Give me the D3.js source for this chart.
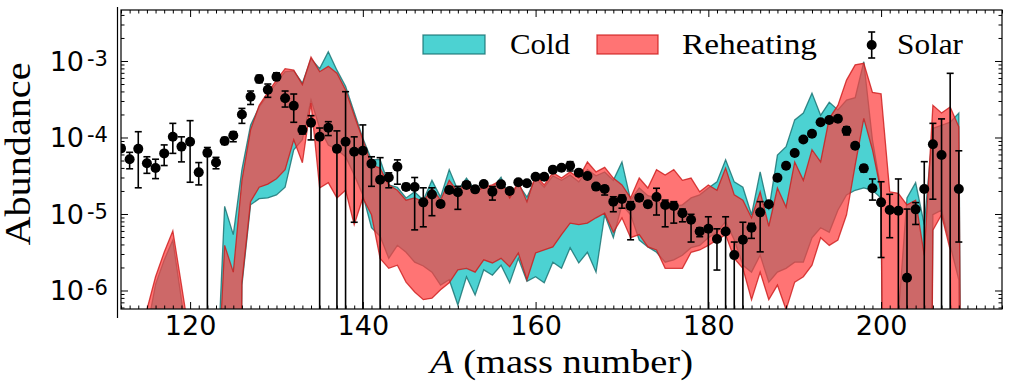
<!DOCTYPE html>
<html>
<head>
<meta charset="utf-8">
<script src="https://cdnjs.cloudflare.com/ajax/libs/d3/7.8.5/d3.min.js"></script>
<style>
  body { margin: 0; background: #fff; }
  svg { display: block; }
</style>
</head>
<body>
<script>
// mass numbers of the model bands
const bandA = d3.range(112, 211);
// band edges, log10(abundance); -20 means zero / far below the axis
const coldHighLog = [
  -20, -20, -20, -6.52, -5.92, -5.60, -5.34, -6.12, -6.91, -20,
  -20, -7.43, -4.90, -5.27, -4.42, -3.84, -3.60, -3.44, -3.29, -3.14,
  -3.13, -3.29, -2.97, -3.10, -2.88, -3.12, -3.33, -3.67, -4.01, -4.29,
  -4.29, -4.62, -4.65, -4.79, -4.71, -4.82, -4.56, -4.78, -4.42, -4.69,
  -4.53, -4.69, -4.66, -4.66, -4.52, -4.79, -4.61, -4.78, -4.53, -4.65,
  -4.50, -4.56, -4.49, -4.58, -4.42, -4.50, -4.45, -4.56, -4.32, -4.82,
  -4.66, -4.76, -4.79, -4.95, -4.90, -4.88, -4.79, -4.75, -4.66, -4.58,
  -4.29, -4.58, -4.65, -5.01, -4.45, -4.95, -4.23, -4.12, -3.77, -3.68,
  -3.42, -3.71, -3.54, -3.64, -3.51, -3.48, -3.01, -4.03, -4.69, -20,
  -6.32, -4.79, -4.59, -5.14, -3.88, -3.84, -3.80, -3.68, -20
];
const coldLowLog = [
  -20, -20, -20, -20, -20, -20, -20, -20, -20, -20,
  -20, -20, -20, -20, -5.93, -4.88, -4.80, -4.79, -4.75, -4.65,
  -4.16, -4.03, -3.51, -3.88, -4.10, -4.16, -4.25, -4.49, -4.75, -5.18,
  -5.29, -5.58, -5.41, -5.50, -5.63, -5.68, -5.76, -5.93, -5.86, -6.19,
  -5.82, -6.06, -5.73, -5.80, -5.67, -5.90, -5.58, -5.88, -5.82, -5.90,
  -5.63, -5.71, -5.44, -5.64, -5.50, -5.76, -5.01, -5.31, -4.88, -5.01,
  -5.34, -5.43, -5.50, -5.63, -5.60, -5.54, -5.44, -5.41, -5.31, -5.24,
  -5.10, -5.34, -5.67, -5.76, -5.54, -5.89, -5.76, -5.71, -5.63, -5.63,
  -5.31, -5.18, -5.24, -4.95, -4.75, -4.69, -4.66, -4.69, -4.79, -20,
  -20, -20, -20, -20, -5.01, -4.95, -5.41, -5.86, -20
];
const reheatHighLog = [
  -20, -20, -20, -6.25, -5.82, -5.50, -5.22, -5.93, -6.65, -20,
  -20, -7.69, -5.41, -5.76, -4.56, -3.90, -3.58, -3.41, -3.25, -3.10,
  -3.12, -3.31, -2.95, -3.14, -3.07, -3.16, -3.38, -3.71, -4.03, -4.36,
  -4.40, -4.62, -4.69, -4.82, -4.79, -4.84, -4.66, -4.82, -4.56, -4.71,
  -4.58, -4.71, -4.65, -4.62, -4.56, -4.79, -4.58, -4.84, -4.49, -4.62,
  -4.46, -4.53, -4.45, -4.53, -4.32, -4.45, -4.39, -4.53, -4.62, -4.79,
  -4.53, -4.66, -4.42, -4.49, -4.42, -4.56, -4.53, -4.71, -4.62, -4.69,
  -4.40, -4.75, -4.82, -5.05, -4.71, -5.16, -4.66, -4.91, -4.32, -4.56,
  -4.16, -4.32, -3.75, -3.58, -3.25, -3.05, -3.03, -3.41, -3.43, -4.71,
  -4.73, -4.88, -4.82, -5.54, -3.58, -3.68, -3.60, -3.86, -20
];
const reheatLowLog = [
  -20, -20, -20, -20, -20, -20, -20, -20, -20, -20,
  -20, -20, -20, -20, -5.89, -4.84, -4.65, -4.61, -4.54, -4.42,
  -4.03, -4.33, -3.55, -4.66, -4.59, -4.79, -4.69, -5.14, -4.79, -5.01,
  -5.58, -5.71, -5.67, -5.89, -6.02, -6.12, -6.10, -5.99, -5.90, -5.73,
  -5.71, -5.76, -5.60, -5.64, -5.58, -5.69, -5.51, -5.86, -5.51, -5.47,
  -5.43, -5.27, -5.12, -5.14, -5.12, -5.05, -4.99, -5.24, -5.05, -5.31,
  -5.27, -5.43, -5.47, -5.71, -5.71, -5.71, -5.50, -5.47, -5.41, -5.34,
  -5.27, -5.58, -5.71, -6.12, -5.76, -6.12, -5.93, -6.25, -5.89, -5.82,
  -5.67, -5.31, -5.41, -5.34, -5.01, -4.36, -3.75, -4.16, -4.71, -20,
  -20, -20, -20, -20, -5.21, -5.01, -5.47, -20, -20
];

// solar r-process abundances with error bar ends (0 = bar runs off the axis)
const solarA = d3.range(112, 210);
const solar = [
  7.2e-5, 5.2e-5, 7.1e-5, 4.6e-5, 4.0e-5, 6.2e-5, 1.02e-4, 7.6e-5, 8.8e-5, 3.5e-5,
  6.3e-5, 4.7e-5, 9.0e-5, 1.06e-4, 2.0e-4, 3.4e-4, 5.8e-4, 4.2e-4, 6.2e-4, 3.25e-4,
  2.6e-4, 1.25e-4, 1.56e-4, 1.02e-4, 1.34e-4, 7.1e-5, 8.8e-5, 6.5e-5, 6.7e-5, 4.55e-5,
  2.8e-5, 3.0e-5, 4.15e-5, 2.25e-5, 2.25e-5, 1.42e-5, 1.8e-5, 1.35e-5, 2.06e-5, 1.92e-5,
  2.4e-5, 2.1e-5, 2.47e-5, 1.96e-5, 2.44e-5, 2.0e-5, 2.6e-5, 2.52e-5, 3.07e-5, 3.07e-5,
  3.8e-5, 4.03e-5, 4.28e-5, 3.47e-5, 3.14e-5, 2.28e-5, 2.12e-5, 1.45e-5, 1.57e-5, 1.27e-5,
  1.63e-5, 1.34e-5, 1.67e-5, 1.31e-5, 1.27e-5, 1.02e-5, 8.4e-6, 5.9e-6, 6.4e-6, 4.7e-6,
  5.9e-6, 2.9e-6, 4.6e-6, 6.6e-6, 1.05e-5, 1.34e-5, 2.98e-5, 4.28e-5, 6.27e-5, 9.4e-5,
  1.12e-4, 1.58e-4, 1.69e-4, 1.76e-4, 1.23e-4, 7.8e-5, 3.96e-5, 2.17e-5, 1.42e-5, 1.13e-5,
  1.1e-5, 1.47e-6, 1.15e-5, 2.12e-5, 8.15e-5, 5.9e-5, 2e-7, 2.12e-5
];
const solarLow = [
  6.6e-5, 3.9e-5, 2.2e-5, 3.4e-5, 2.9e-5, 4.3e-5, 6.2e-5, 4.8e-5, 2.6e-5, 2.4e-5,
  0, 3.9e-5, 8.1e-5, 8.8e-5, 1.53e-4, 2.7e-4, 5.2e-4, 3.35e-4, 5.6e-4, 2.5e-4,
  1.58e-4, 1.11e-4, 9.3e-5, 0, 1.06e-4, 0, 0, 7.8e-6, 0, 2.3e-5,
  0, 2.2e-5, 2.45e-5, 2.05e-5, 6.2e-6, 6.8e-6, 9.5e-6, 1.23e-5, 1.88e-5, 1.15e-5,
  2.2e-5, 1.95e-5, 2.3e-5, 1.52e-5, 2.25e-5, 1.85e-5, 2.4e-5, 2.35e-5, 2.85e-5, 2.85e-5,
  3.55e-5, 3.75e-5, 3.65e-5, 3.25e-5, 2.95e-5, 2.1e-5, 1.77e-5, 1.07e-5, 1.19e-5, 4.6e-6,
  1.5e-5, 1.22e-5, 9.7e-6, 6.8e-6, 7.6e-6, 7.9e-6, 4.3e-6, 5.05e-6, 0, 1.85e-6,
  0, 0, 0, 4.8e-6, 3.2e-6, 1.25e-5, 2.8e-5, 4.0e-5, 5.9e-5, 8.8e-5,
  1.05e-4, 1.49e-4, 1.6e-4, 1.66e-4, 1.08e-4, 7.3e-5, 3.54e-5, 1.52e-5, 2.7e-6, 4.9e-6,
  0, 0, 7.3e-6, 0, 1.56e-5, 0, 0, 4.3e-6
];
const solarHigh = [
  8.0e-5, 6.4e-5, 1.19e-4, 5.6e-5, 5.2e-5, 8.0e-5, 1.53e-4, 1.02e-4, 1.66e-4, 4.7e-5,
  7.4e-5, 5.5e-5, 1.0e-4, 1.19e-4, 2.4e-4, 4.05e-4, 6.5e-4, 5.0e-4, 7.0e-4, 4.05e-4,
  3.7e-4, 1.41e-4, 1.93e-4, 1.33e-4, 1.61e-4, 1.22e-4, 3.97e-4, 1.02e-4, 1.46e-4, 5.6e-5,
  5.45e-5, 3.45e-5, 5.1e-5, 2.5e-5, 3.0e-5, 2.2e-5, 2.2e-5, 1.48e-5, 2.25e-5, 2.3e-5,
  2.6e-5, 2.3e-5, 2.65e-5, 2.28e-5, 2.65e-5, 2.15e-5, 2.8e-5, 2.7e-5, 3.3e-5, 3.3e-5,
  4.05e-5, 4.3e-5, 4.83e-5, 3.7e-5, 3.35e-5, 2.45e-5, 2.33e-5, 1.68e-5, 1.77e-5, 1.45e-5,
  1.78e-5, 1.46e-5, 2.17e-5, 1.52e-5, 1.45e-5, 1.16e-5, 9.9e-6, 6.6e-6, 9.2e-6, 6.4e-6,
  9.2e-6, 4.3e-6, 7.8e-6, 7.55e-6, 1.45e-5, 1.43e-5, 3.15e-5, 4.55e-5, 6.65e-5, 1.0e-4,
  1.19e-4, 1.67e-4, 1.78e-4, 1.86e-4, 1.38e-4, 8.3e-5, 4.37e-5, 2.87e-5, 2.64e-5, 1.81e-5,
  2.87e-5, 1.16e-5, 1.41e-5, 4.83e-5, 1.53e-4, 1.75e-4, 6.9e-4, 6.7e-5
];

const xTicks = [120, 140, 160, 180, 200];
const yTickExps = [-3, -4, -5, -6];

const width = 1011;
const height = 389;
const plotLeft = 121, plotRight = 1002, plotTop = 10, plotBottom = 309;

const x = d3.scaleLinear().domain([112, 214]).range([plotLeft, plotRight]);
const y = d3.scaleLog().domain([5.73e-7, 4.64e-3]).range([plotBottom, plotTop]);

const xMinor = d3.range(112, 215).filter(v => v % 20 !== 0);
const yMinor = [];
[-7, -6, -5, -4, -3].forEach(e => {
  for (let m = 2; m <= 9; m++) {
    const v = m * Math.pow(10, e);
    if (v > y.domain()[0] && v < y.domain()[1]) yMinor.push(v);
  }
});
const yMajor = yTickExps.map(e => Math.pow(10, e));

const svg = d3.select('body').append('svg')
    .attr('width', width)
    .attr('height', height);

svg.append('clipPath').attr('id', 'plot')
  .append('rect')
    .attr('x', plotLeft).attr('y', plotTop)
    .attr('width', plotRight - plotLeft).attr('height', plotBottom - plotTop);

const plot = svg.append('g').attr('clip-path', 'url(#plot)');

function bandData(lowLog, highLog) {
  return bandA.map((a, i) => ({a: a, lo: Math.pow(10, lowLog[i]), hi: Math.pow(10, highLog[i])}));
}

const area = d3.area()
    .x(d => x(d.a))
    .y0(d => y(d.lo))
    .y1(d => y(d.hi));

const coldFill = 'rgba(0,191,191,0.7)';
const coldEdge = 'rgba(20,110,110,0.8)';
const reheatFill = 'rgba(255,63,63,0.72)';
const reheatEdge = 'rgba(205,25,25,0.8)';

plot.append('path')
    .datum(bandData(coldLowLog, coldHighLog))
    .attr('d', area)
    .attr('fill', coldFill)
    .attr('stroke', coldEdge)
    .attr('stroke-width', 1.3);

plot.append('path')
    .datum(bandData(reheatLowLog, reheatHighLog))
    .attr('d', area)
    .attr('fill', reheatFill)
    .attr('stroke', reheatEdge)
    .attr('stroke-width', 1.3);

// solar points
const pts = solarA.map((a, i) => ({a: a, v: solar[i], lo: solarLow[i], hi: solarHigh[i]}));
const cap = 3.5;
const eb = plot.append('g').attr('stroke', '#000').attr('stroke-width', 1.6);
pts.forEach(d => {
  const px = x(d.a);
  const yHi = y(d.hi);
  const yLo = d.lo > 0 ? y(d.lo) : plotBottom + 20;
  eb.append('line').attr('x1', px).attr('x2', px).attr('y1', yHi).attr('y2', yLo);
  eb.append('line').attr('x1', px - cap).attr('x2', px + cap).attr('y1', yHi).attr('y2', yHi);
  if (d.lo > 0) {
    eb.append('line').attr('x1', px - cap).attr('x2', px + cap).attr('y1', yLo).attr('y2', yLo);
  }
});
plot.append('g').selectAll('circle')
    .data(pts)
  .enter().append('circle')
    .attr('cx', d => x(d.a))
    .attr('cy', d => y(d.v))
    .attr('r', 5)
    .attr('fill', '#000');

// axes, ticks pointing inwards
function styleAxis(g) {
  g.selectAll('.domain').remove();
  g.selectAll('line').attr('stroke', '#000').attr('stroke-width', 1);
}

svg.append('g')
    .attr('transform', 'translate(0,' + plotBottom + ')')
    .call(d3.axisBottom(x).tickValues(xMinor).tickSize(-3.5).tickFormat(''))
    .call(styleAxis);
svg.append('g')
    .attr('transform', 'translate(0,' + plotBottom + ')')
    .call(d3.axisBottom(x).tickValues(xTicks).tickSize(-7).tickPadding(7).tickFormat(d3.format('d')))
    .call(styleAxis)
    .call(g => g.selectAll('text')
      .attr('font-family', 'DejaVu Sans')
      .attr('font-size', 27)
      .attr('fill', '#000'));
svg.append('g')
    .attr('transform', 'translate(0,' + plotTop + ')')
    .call(d3.axisTop(x).tickValues(xMinor).tickSize(-3.5).tickFormat(''))
    .call(styleAxis);
svg.append('g')
    .attr('transform', 'translate(0,' + plotTop + ')')
    .call(d3.axisTop(x).tickValues(xTicks).tickSize(-7).tickFormat(''))
    .call(styleAxis);

svg.append('g')
    .attr('transform', 'translate(' + plotLeft + ',0)')
    .call(d3.axisLeft(y).tickValues(yMinor).tickSize(-3.5).tickFormat(''))
    .call(styleAxis);
svg.append('g')
    .attr('transform', 'translate(' + plotLeft + ',0)')
    .call(d3.axisLeft(y).tickValues(yMajor).tickSize(-7).tickFormat(''))
    .call(styleAxis);
svg.append('g')
    .attr('transform', 'translate(' + plotRight + ',0)')
    .call(d3.axisRight(y).tickValues(yMinor).tickSize(-3.5).tickFormat(''))
    .call(styleAxis);
svg.append('g')
    .attr('transform', 'translate(' + plotRight + ',0)')
    .call(d3.axisRight(y).tickValues(yMajor).tickSize(-7).tickFormat(''))
    .call(styleAxis);

// y tick labels 10^-n
const yLab = svg.append('g').attr('font-family', 'DejaVu Sans').attr('fill', '#000');
yTickExps.forEach(e => {
  const t = yLab.append('text')
      .attr('x', 108)
      .attr('y', y(Math.pow(10, e)) + 10)
      .attr('text-anchor', 'end');
  t.append('tspan').attr('font-size', 27).text('10');
  t.append('tspan').attr('font-size', 21).attr('dx', 3).attr('dy', -5).text('-' + (-e));
});

// frame
svg.append('rect')
    .attr('x', plotLeft).attr('y', plotTop)
    .attr('width', plotRight - plotLeft).attr('height', plotBottom - plotTop)
    .attr('fill', 'none')
    .attr('stroke', '#000')
    .attr('stroke-width', 1.2);
svg.append('line')
    .attr('x1', 117.5).attr('x2', 117.5)
    .attr('y1', 7).attr('y2', 318)
    .attr('stroke', '#000')
    .attr('stroke-width', 1.2);

// axis titles
const serif = 'Liberation Serif';
svg.append('text')
    .attr('transform', 'translate(30,154) rotate(-90)')
    .attr('text-anchor', 'middle')
    .attr('font-family', serif)
    .attr('font-size', 35)
    .attr('textLength', 183)
    .attr('lengthAdjust', 'spacingAndGlyphs')
    .text('Abundance');

const xt = svg.append('text')
    .attr('x', 561.5)
    .attr('y', 373)
    .attr('text-anchor', 'middle')
    .attr('font-family', serif)
    .attr('font-size', 34)
    .attr('textLength', 263)
    .attr('lengthAdjust', 'spacingAndGlyphs');
xt.append('tspan').attr('font-style', 'italic').text('A');
xt.append('tspan').text(' (mass number)');

// legend
const lg = svg.append('g').attr('font-family', serif).attr('font-size', 30);
lg.append('rect').attr('x', 423).attr('y', 35).attr('width', 62).attr('height', 19)
    .attr('fill', coldFill).attr('stroke', coldEdge).attr('stroke-width', 1.3);
lg.append('text').attr('x', 510).attr('y', 53.5)
    .attr('textLength', 60).attr('lengthAdjust', 'spacingAndGlyphs').text('Cold');
lg.append('rect').attr('x', 597).attr('y', 35).attr('width', 61).attr('height', 19)
    .attr('fill', reheatFill).attr('stroke', reheatEdge).attr('stroke-width', 1.3);
lg.append('text').attr('x', 682).attr('y', 53.5)
    .attr('textLength', 135).attr('lengthAdjust', 'spacingAndGlyphs').text('Reheating');
const mk = lg.append('g').attr('stroke', '#000').attr('stroke-width', 1.6);
mk.append('line').attr('x1', 871.7).attr('x2', 871.7).attr('y1', 32).attr('y2', 58);
mk.append('line').attr('x1', 868.2).attr('x2', 875.2).attr('y1', 32).attr('y2', 32);
mk.append('line').attr('x1', 868.2).attr('x2', 875.2).attr('y1', 58).attr('y2', 58);
lg.append('circle').attr('cx', 871.7).attr('cy', 45).attr('r', 5).attr('fill', '#000');
lg.append('text').attr('x', 897).attr('y', 53.5)
    .attr('textLength', 66).attr('lengthAdjust', 'spacingAndGlyphs').text('Solar');
</script>
</body>
</html>
